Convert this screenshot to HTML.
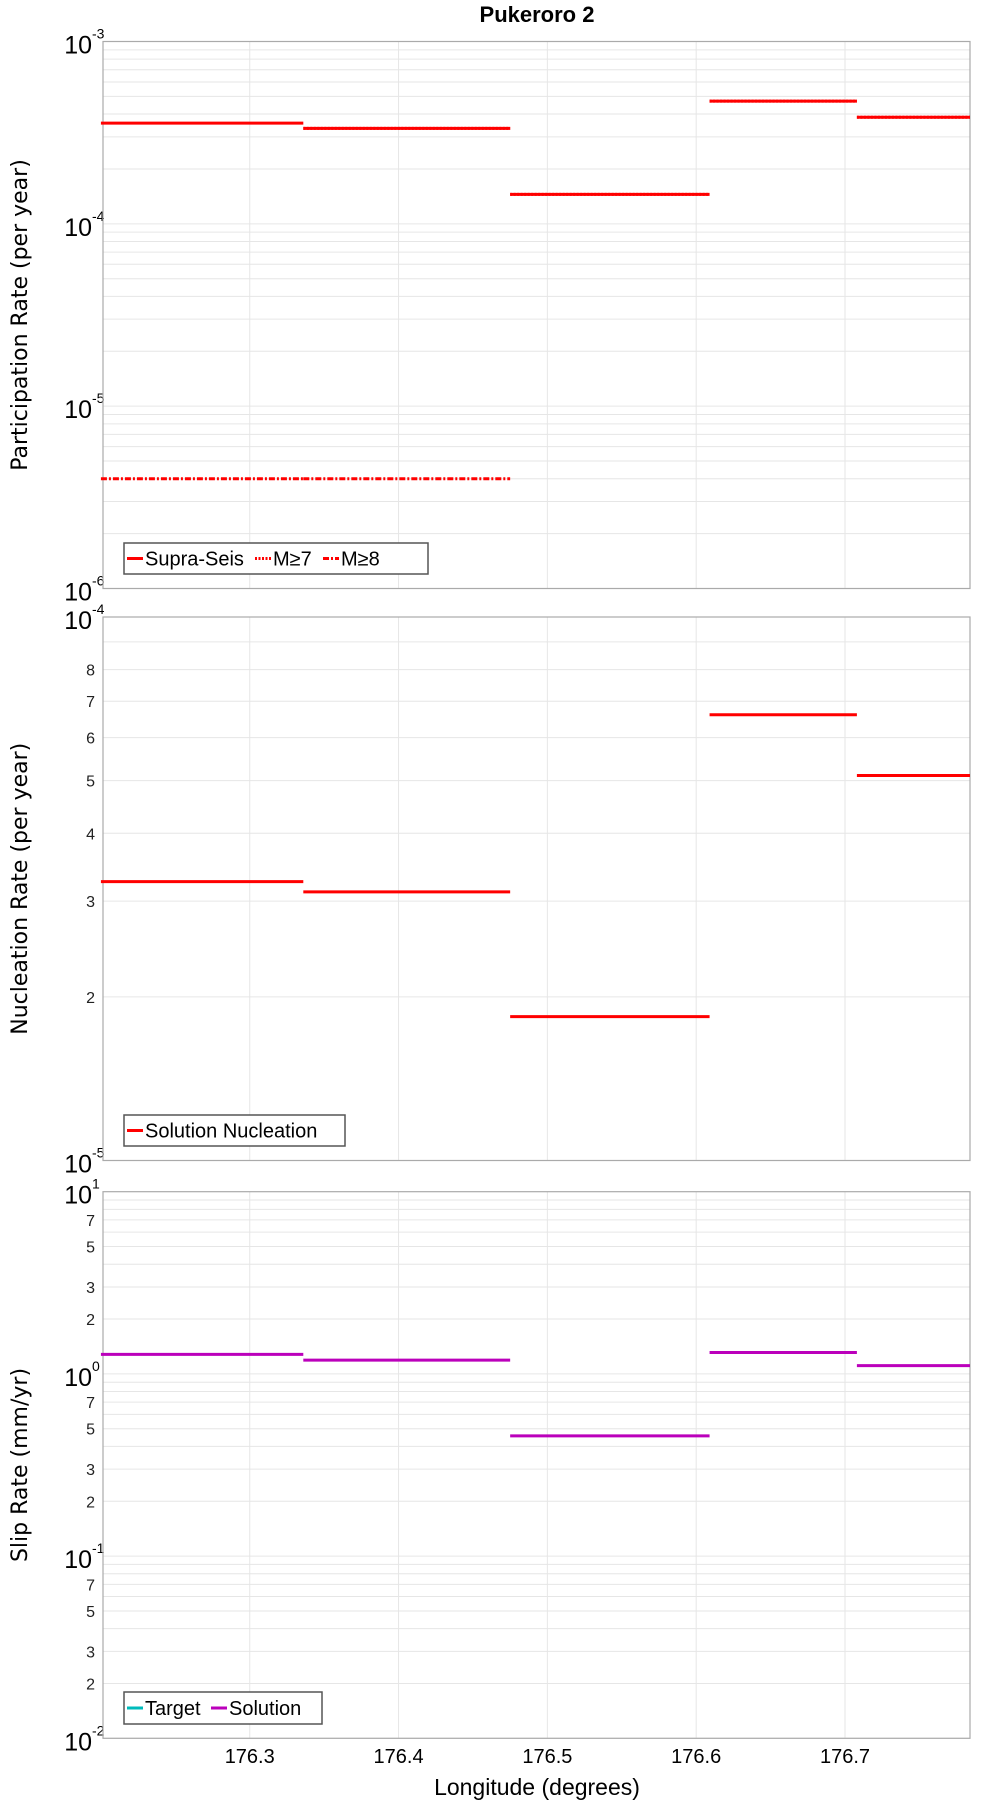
<!DOCTYPE html>
<html><head><meta charset="utf-8"><style>
body{margin:0;background:#fff;}
svg{display:block;font-family:"Liberation Sans","DejaVu Sans",sans-serif;}
</style></head><body>
<svg id="c" width="1000" height="1800" xmlns="http://www.w3.org/2000/svg">
<text x="537" y="22" text-anchor="middle" font-size="22" font-weight="bold">Pukeroro 2</text>
<text x="537" y="1795" text-anchor="middle" font-size="23">Longitude (degrees)</text>
</svg>
<script>
const xTicks = [176.3, 176.4, 176.5, 176.6, 176.7];
const segStarts = [176.2, 176.336, 176.475, 176.609, 176.708];
const segEnds = [176.336, 176.475, 176.609, 176.708, 176.784];
const supraSeis = [3.57e-4, 3.34e-4, 1.45e-4, 4.71e-4, 3.84e-4];
const m7 = [null, 3.34e-4, 1.45e-4, 4.71e-4, 3.84e-4];
const m8 = [4.0e-6, 4.0e-6, null, null, null];
const nucleation = [3.26e-5, 3.12e-5, 1.84e-5, 6.61e-5, 5.11e-5];
const slipSolution = [1.28, 1.19, 0.457, 1.31, 1.11];

const NS = "http://www.w3.org/2000/svg";
const svg = document.getElementById('c');
const X0 = 103, X1 = 970, XMIN = 176.2014, XMAX = 176.784;
function xs(v){ return X0 + (v - XMIN) / (XMAX - XMIN) * (X1 - X0); }
function mk(tag, attrs, parent){ const e = document.createElementNS(NS, tag); for (const k in attrs) e.setAttribute(k, attrs[k]); (parent||svg).appendChild(e); return e; }

function panel(p){
  const g = mk('g', {});
  
  
  const ys = v => p.bot - (Math.log10(v) - p.lmin) / (p.lmax - p.lmin) * (p.bot - p.top);
  for (let d = p.lmin; d < p.lmax; d++) {
    for (let m = 1; m <= 9; m++) {
      const v = m * Math.pow(10, d);
      const y = ys(v);
      const gl = mk('line', {x1: X0, x2: X1, y1: y, y2: y, stroke: '#e6e6e6', 'stroke-width': 1}, g);
      
      
      if (m > 1 && p.minorLabels.includes(m)) {
        const t = mk('text', {x: 95, y: y + 6, 'text-anchor': 'end', 'font-size': 16, fill: '#222'}, g);
        t.textContent = m;
        
        
      }
    }
  }
  for (let d = p.lmin; d <= p.lmax; d++) {
    const y = ys(Math.pow(10, d));
    const t = mk('text', {x: 92, y: y + 12, 'text-anchor': 'end', 'font-size': 25}, g);
    t.textContent = '10';
    
    
    const e = mk('text', {x: 92, y: y - 3, 'text-anchor': 'start', 'font-size': 14}, g);
    e.textContent = String(d);
    
    
  }
  xTicks.forEach(v => {
    const l = mk('line', {x1: xs(v), x2: xs(v), y1: p.top, y2: p.bot, stroke: '#e6e6e6', 'stroke-width': 1}, g);
    
    
  });
  const fr = mk('rect', {x: X0, y: p.top, width: X1 - X0, height: p.bot - p.top, fill: 'none', stroke: '#aaa', 'stroke-width': 1.2}, g);
  
  
  const cy = (p.top + p.bot) / 2;
  const yt = mk('text', {x: 0, y: 0, 'text-anchor': 'middle', 'font-size': 22, 'font-family': '"DejaVu Sans", sans-serif', transform: `translate(27 ${cy}) rotate(-90)`}, g);
  yt.textContent = p.ytitle;
  
  
  p.series.forEach(s => {
    s.values.forEach((v, i) => {
      if (v == null) return;
      const y = ys(v);
      const a = {x1: xs(segStarts[i]), x2: xs(segEnds[i]), y1: y, y2: y, stroke: s.color, 'stroke-width': 3};
      if (s.dash) a['stroke-dasharray'] = s.dash;
      const l = mk('line', a, g);
      
      
    });
  });
  const L = p.legend;
  const lb = mk('rect', {x: L.x, y: L.y, width: L.w, height: L.h, fill: '#fff', stroke: '#555', 'stroke-width': 1.5}, g);
  
  
  let cx = L.x + 3;
  L.items.forEach(it => {
    const a = {x1: cx, x2: cx + 16, y1: L.y + L.h / 2, y2: L.y + L.h / 2, stroke: it.color, 'stroke-width': 3};
    if (it.dash) a['stroke-dasharray'] = it.dash;
    const sw = mk('line', a, g);
    
    
    const t = mk('text', {x: cx + 18, y: L.y + L.h / 2 + 7, 'font-size': 20}, g);
    t.textContent = it.label;
    
    
    cx += 18 + it.w;
  });
}

panel({name: 'participation-panel', top: 41.5, bot: 588.5, lmin: -6, lmax: -3, minorLabels: [], ytitle: 'Participation Rate (per year)',
  series: [
    {name: 'supra-seis', values: supraSeis, color: '#f00'},
    {name: 'm7', values: m7, color: '#f00', dash: '2 1.5'},
    {name: 'm8', values: m8, color: '#f00', dash: '6 2 2 2'}],
  legend: {x: 124, y: 543, w: 304, h: 31, items: [
    {label: 'Supra-Seis', color: '#f00', w: 110},
    {label: 'M≥7', color: '#f00', dash: '2 1.5', w: 50},
    {label: 'M≥8', color: '#f00', dash: '6 2 2 2', w: 50}]}});

panel({name: 'nucleation-panel', top: 617, bot: 1160.5, lmin: -5, lmax: -4, minorLabels: [2,3,4,5,6,7,8], ytitle: 'Nucleation Rate (per year)',
  series: [{name: 'solution-nucleation', values: nucleation, color: '#f00'}],
  legend: {x: 124, y: 1115, w: 221, h: 31, items: [{label: 'Solution Nucleation', color: '#f00', w: 190}]}});

panel({name: 'slip-rate-panel', top: 1191.7, bot: 1738.3, lmin: -2, lmax: 1, minorLabels: [2,3,5,7], ytitle: 'Slip Rate (mm/yr)',
  series: [{name: 'slip-solution', values: slipSolution, color: '#b0b'}],
  legend: {x: 124, y: 1692, w: 198, h: 32, items: [
    {label: 'Target', color: '#0bb', w: 66},
    {label: 'Solution', color: '#b0b', w: 90}]}});

xTicks.forEach(v => {
  const t = mk('text', {x: xs(v), y: 1763, 'text-anchor': 'middle', 'font-size': 20});
  t.textContent = v.toFixed(1);
  
  
});
</script>
</body></html>
